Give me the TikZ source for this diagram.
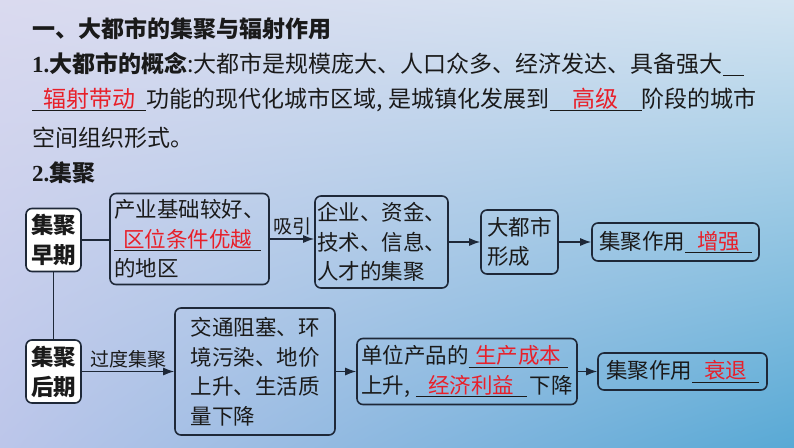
\documentclass[tikz,border=0pt]{standalone}
\usepackage{fontspec}
\setmainfont{Noto Sans CJK SC}
\newfontfamily\numfont{Liberation Serif}
\usetikzlibrary{shapes,arrows.meta,positioning,shadings}

\definecolor{keyred}{HTML}{E8202A}
\definecolor{boxline}{HTML}{1E2838}
\definecolor{inkblack}{HTML}{1A1A1A}
\definecolor{bgul}{HTML}{DADAEF}
\definecolor{bgur}{HTML}{D3E4F1}
\definecolor{bgll}{HTML}{BCC6EA}
\definecolor{bglr}{HTML}{58A9D5}

\newcommand{\fillin}[2]{\underline{\makebox[#1]{\vphantom{字}\textcolor{keyred}{#2}}}}
\newcommand{\bodyfont}{\fontsize{23}{36}\selectfont}
\newcommand{\boxfont}{\fontsize{21.5}{29.5}\selectfont}
\newcommand{\stagefont}{\fontsize{22.5}{30}\selectfont}
\newcommand{\labelfont}{\fontsize{19}{22}\selectfont}

\begin{document}
\begin{tikzpicture}[x=1pt, y=-1pt,
    txt/.style={anchor=base west, inner sep=0pt, font=\bodyfont, text=inkblack},
    stagebox/.style={draw=boxline, line width=1.6pt, rounded corners=6pt, fill=white,
        font=\stagefont\bfseries, text=inkblack, align=center, inner sep=0pt,
        minimum width=55pt, minimum height=63pt},
    flowbox/.style={draw=boxline, line width=1.6pt, rounded corners=6pt,
        font=\boxfont, text=inkblack, align=left, inner sep=2pt},
    link/.style={draw=boxline, line width=1.3pt},
    flow/.style={link, -{Latex[length=11pt,width=8pt]}},
    tag/.style={above, font=\labelfont, text=inkblack, inner sep=3pt}]
        % Background
        \useasboundingbox (0,0) rectangle (794,447);
        \shade[upper left=bgul, upper right=bgur, lower left=bgll, lower right=bglr]
            (0,0) rectangle (794,447);

        % Text
        \node (title) [txt, font=\bodyfont\bfseries] at (32,37) {一、大都市的集聚与辐射作用};
        \node (concept) [txt] at (32,72) {{\numfont\bfseries 1.}\textbf{大都市的概念}:大都市是规模庞大、人口众多、经济发达、具备强大\fillin{21pt}{}};
        \node (concept_two) [txt] at (32,107) {\fillin{114pt}{辐射带动}功能的现代化城市区域,\hspace{6pt}是城镇化发展到\fillin{92pt}{高级}阶段的城市};
        \node (concept_three) [txt] at (32,146) {空间组织形式。};
        \node (gather_head) [txt] at (32,181) {{\numfont\bfseries 2.}\textbf{集聚}};

        % Nodes
        \node (early) [stagebox] at (53.5,240) {集聚\\早期};
        \node (late) [stagebox] at (53.5,371.5) {集聚\\后期};
        \node (region) [flowbox, minimum width=159pt, minimum height=91pt] at (189.5,239)
            {产业基础较好、\\\fillin{147pt}{区位条件优越}\\的地区};
        \node (gather) [flowbox, minimum width=133pt, minimum height=92pt] at (381.5,242)
            {企业、资金、\\技术、信息、\\人才的集聚};
        \node (metro) [flowbox, minimum width=77pt, minimum height=64pt] at (519.5,242)
            {大都市\\形成};
        \node (effect_up) [flowbox, minimum width=167pt, minimum height=38pt] at (675.5,242)
            {集聚作用\fillin{67pt}{增强}};
        \node (problems) [flowbox, minimum width=160pt, minimum height=127pt] at (255,371.5)
            {交通阻塞、环\\境污染、地价\\上升、生活质\\量下降};
        \node (cost) [flowbox, minimum width=220pt, minimum height=66pt] at (467,371.5)
            {单位产品的\fillin{99pt}{生产成本}\\上升,\hspace{6pt}\fillin{111pt}{经济利益}\hspace{3pt}下降};
        \node (effect_down) [flowbox, minimum width=169pt, minimum height=37pt] at (682.5,371.5)
            {集聚作用\fillin{67pt}{衰退}};

        % Early stage
        \draw[link] (early.east) -- (early.east -| region.west);
        \draw[flow] (region.east) -- node[tag] {吸引} (region.east -| gather.west);
        \draw[flow] (gather.east) -- (metro.west);
        \draw[flow] (metro.east) -- (effect_up.west);

        % Late stage
        \draw[link] (early.south) -- (late.north);
        \draw[flow] (late.east) -- node[tag] {过度集聚} (late.east -| problems.west);
        \draw[flow] (problems.east) -- (cost.west);
        \draw[flow] (cost.east) -- (effect_down.west);
    \end{tikzpicture}
\end{document}
